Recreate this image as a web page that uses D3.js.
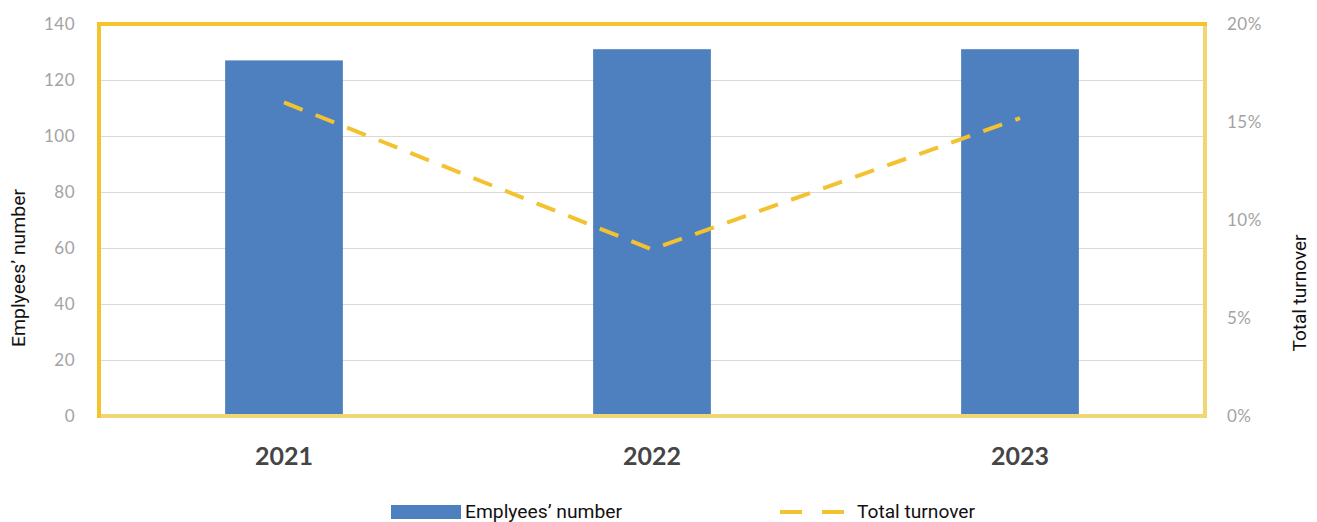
<!DOCTYPE html>
<html>
<head>
<meta charset="utf-8">
<script src="https://cdn.jsdelivr.net/npm/d3@7"></script>
<style>
  html, body { margin: 0; padding: 0; background: #ffffff; }
  svg { display: block; }
</style>
</head>
<body>
<svg id="chart" width="1317" height="522"></svg>
<script>
// Headcount and turnover by year
const years = ["2021", "2022", "2023"];
const employees = [127, 131, 131];
const turnover = [0.16, 0.085, 0.152];
const leftTicks = [0, 20, 40, 60, 80, 100, 120, 140];
const rightTicks = [0, 0.05, 0.10, 0.15, 0.20];
const seriesNames = ["Emplyees\u2019 number", "Total turnover"];

const W = 1317, H = 522;
const plot = { left: 99, right: 1205, top: 24, bottom: 416 };

const svg = d3.select("#chart");

const x = d3.scaleBand()
  .domain(years)
  .range([plot.left + 1, plot.right - 1])
  .paddingInner(0.68)
  .paddingOuter(0.34);

const yL = d3.scaleLinear().domain([0, 140]).range([plot.bottom, plot.top]);
const yR = d3.scaleLinear().domain([0, 0.20]).range([plot.bottom, plot.top]);

const barColor = "#4e7fbe";
const lineColor = "#f3c230";
const gold = "#f5c32c";
const goldSoft = "#f3d674";

// horizontal gridlines
svg.append("g")
  .attr("transform", `translate(${plot.left},0)`)
  .call(d3.axisLeft(yL).tickValues(leftTicks.slice(1, -1)).tickSize(-(plot.right - plot.left)).tickFormat(""))
  .call(g => g.select(".domain").remove())
  .call(g => g.selectAll("line").attr("stroke", "#d9d9d9").attr("stroke-width", 1));

// bars
svg.append("g").selectAll("rect")
  .data(years)
  .join("rect")
  .attr("x", d => x(d))
  .attr("width", x.bandwidth())
  .attr("y", (d, i) => yL(employees[i]))
  .attr("height", (d, i) => yL(0) - yL(employees[i]))
  .attr("fill", barColor);

// dashed turnover line through band centres
const line = d3.line()
  .x((d, i) => x(years[i]) + x.bandwidth() / 2)
  .y(d => yR(d));

svg.append("path")
  .datum(turnover)
  .attr("d", line)
  .attr("fill", "none")
  .attr("stroke", lineColor)
  .attr("stroke-width", 4)
  .attr("stroke-dasharray", "20,14")
  .attr("stroke-linecap", "butt");

// plot frame
const frame = svg.append("g").attr("fill", "none");
frame.append("line").attr("x1", plot.right).attr("x2", plot.right).attr("y1", plot.top).attr("y2", plot.bottom)
  .attr("stroke", goldSoft).attr("stroke-width", 4);
frame.append("line").attr("x1", plot.left - 2).attr("x2", plot.right + 2).attr("y1", plot.bottom).attr("y2", plot.bottom)
  .attr("stroke", goldSoft).attr("stroke-width", 4);
frame.append("line").attr("x1", plot.left - 2).attr("x2", plot.right + 2).attr("y1", plot.top).attr("y2", plot.top)
  .attr("stroke", gold).attr("stroke-width", 4);
frame.append("line").attr("x1", plot.left).attr("x2", plot.left).attr("y1", plot.top).attr("y2", plot.bottom + 2)
  .attr("stroke", gold).attr("stroke-width", 4);

// left axis labels
svg.append("g")
  .attr("transform", "translate(75,0)")
  .call(d3.axisLeft(yL).tickValues(leftTicks).tickSize(0).tickPadding(0).tickFormat(d3.format("d")))
  .call(g => g.select(".domain").remove())
  .call(g => g.selectAll("text")
    .attr("font-family", "Lato, sans-serif").attr("font-size", 17).attr("fill", "#a3a3a3")
    .attr("letter-spacing", "0.5px"));

// right axis labels
svg.append("g")
  .attr("transform", "translate(1227,0)")
  .call(d3.axisRight(yR).tickValues(rightTicks).tickSize(0).tickPadding(0).tickFormat(d3.format(".0%")))
  .call(g => g.select(".domain").remove())
  .call(g => g.selectAll("text")
    .attr("font-family", "Lato, sans-serif").attr("font-size", 17).attr("fill", "#a3a3a3")
    .attr("letter-spacing", "0.5px"));

// category labels
svg.append("g")
  .attr("transform", "translate(0,465)")
  .call(d3.axisBottom(x).tickSize(0).tickPadding(0))
  .call(g => g.select(".domain").remove())
  .call(g => g.selectAll("text")
    .attr("dy", 0)
    .attr("font-family", "Lato, sans-serif").attr("font-weight", "bold")
    .attr("font-size", 25).attr("fill", "#454545"));

const titleFont = "Roboto, sans-serif";

// axis titles
svg.append("text")
  .attr("transform", "translate(25,268) rotate(-90)")
  .attr("text-anchor", "middle")
  .attr("font-family", titleFont).attr("font-size", 19).attr("fill", "#111")
  .attr("textLength", 158).attr("lengthAdjust", "spacingAndGlyphs")
  .text(seriesNames[0]);

svg.append("text")
  .attr("transform", "translate(1306,293) rotate(-90)")
  .attr("text-anchor", "middle")
  .attr("font-family", titleFont).attr("font-size", 19).attr("fill", "#111")
  .attr("textLength", 117).attr("lengthAdjust", "spacingAndGlyphs")
  .text(seriesNames[1]);

// legend
const legend = svg.append("g");
legend.append("rect")
  .attr("x", 391).attr("y", 505).attr("width", 70).attr("height", 14)
  .attr("fill", barColor);
legend.append("text")
  .attr("x", 465).attr("y", 518)
  .attr("font-family", titleFont).attr("font-size", 19).attr("fill", "#111")
  .attr("textLength", 157).attr("lengthAdjust", "spacingAndGlyphs")
  .text(seriesNames[0]);
legend.append("line")
  .attr("x1", 780).attr("x2", 846).attr("y1", 512).attr("y2", 512)
  .attr("stroke", lineColor).attr("stroke-width", 4)
  .attr("stroke-dasharray", "22,20");
legend.append("text")
  .attr("x", 857).attr("y", 518)
  .attr("font-family", titleFont).attr("font-size", 19).attr("fill", "#111")
  .attr("textLength", 118).attr("lengthAdjust", "spacingAndGlyphs")
  .text(seriesNames[1]);
</script>
</body>
</html>
